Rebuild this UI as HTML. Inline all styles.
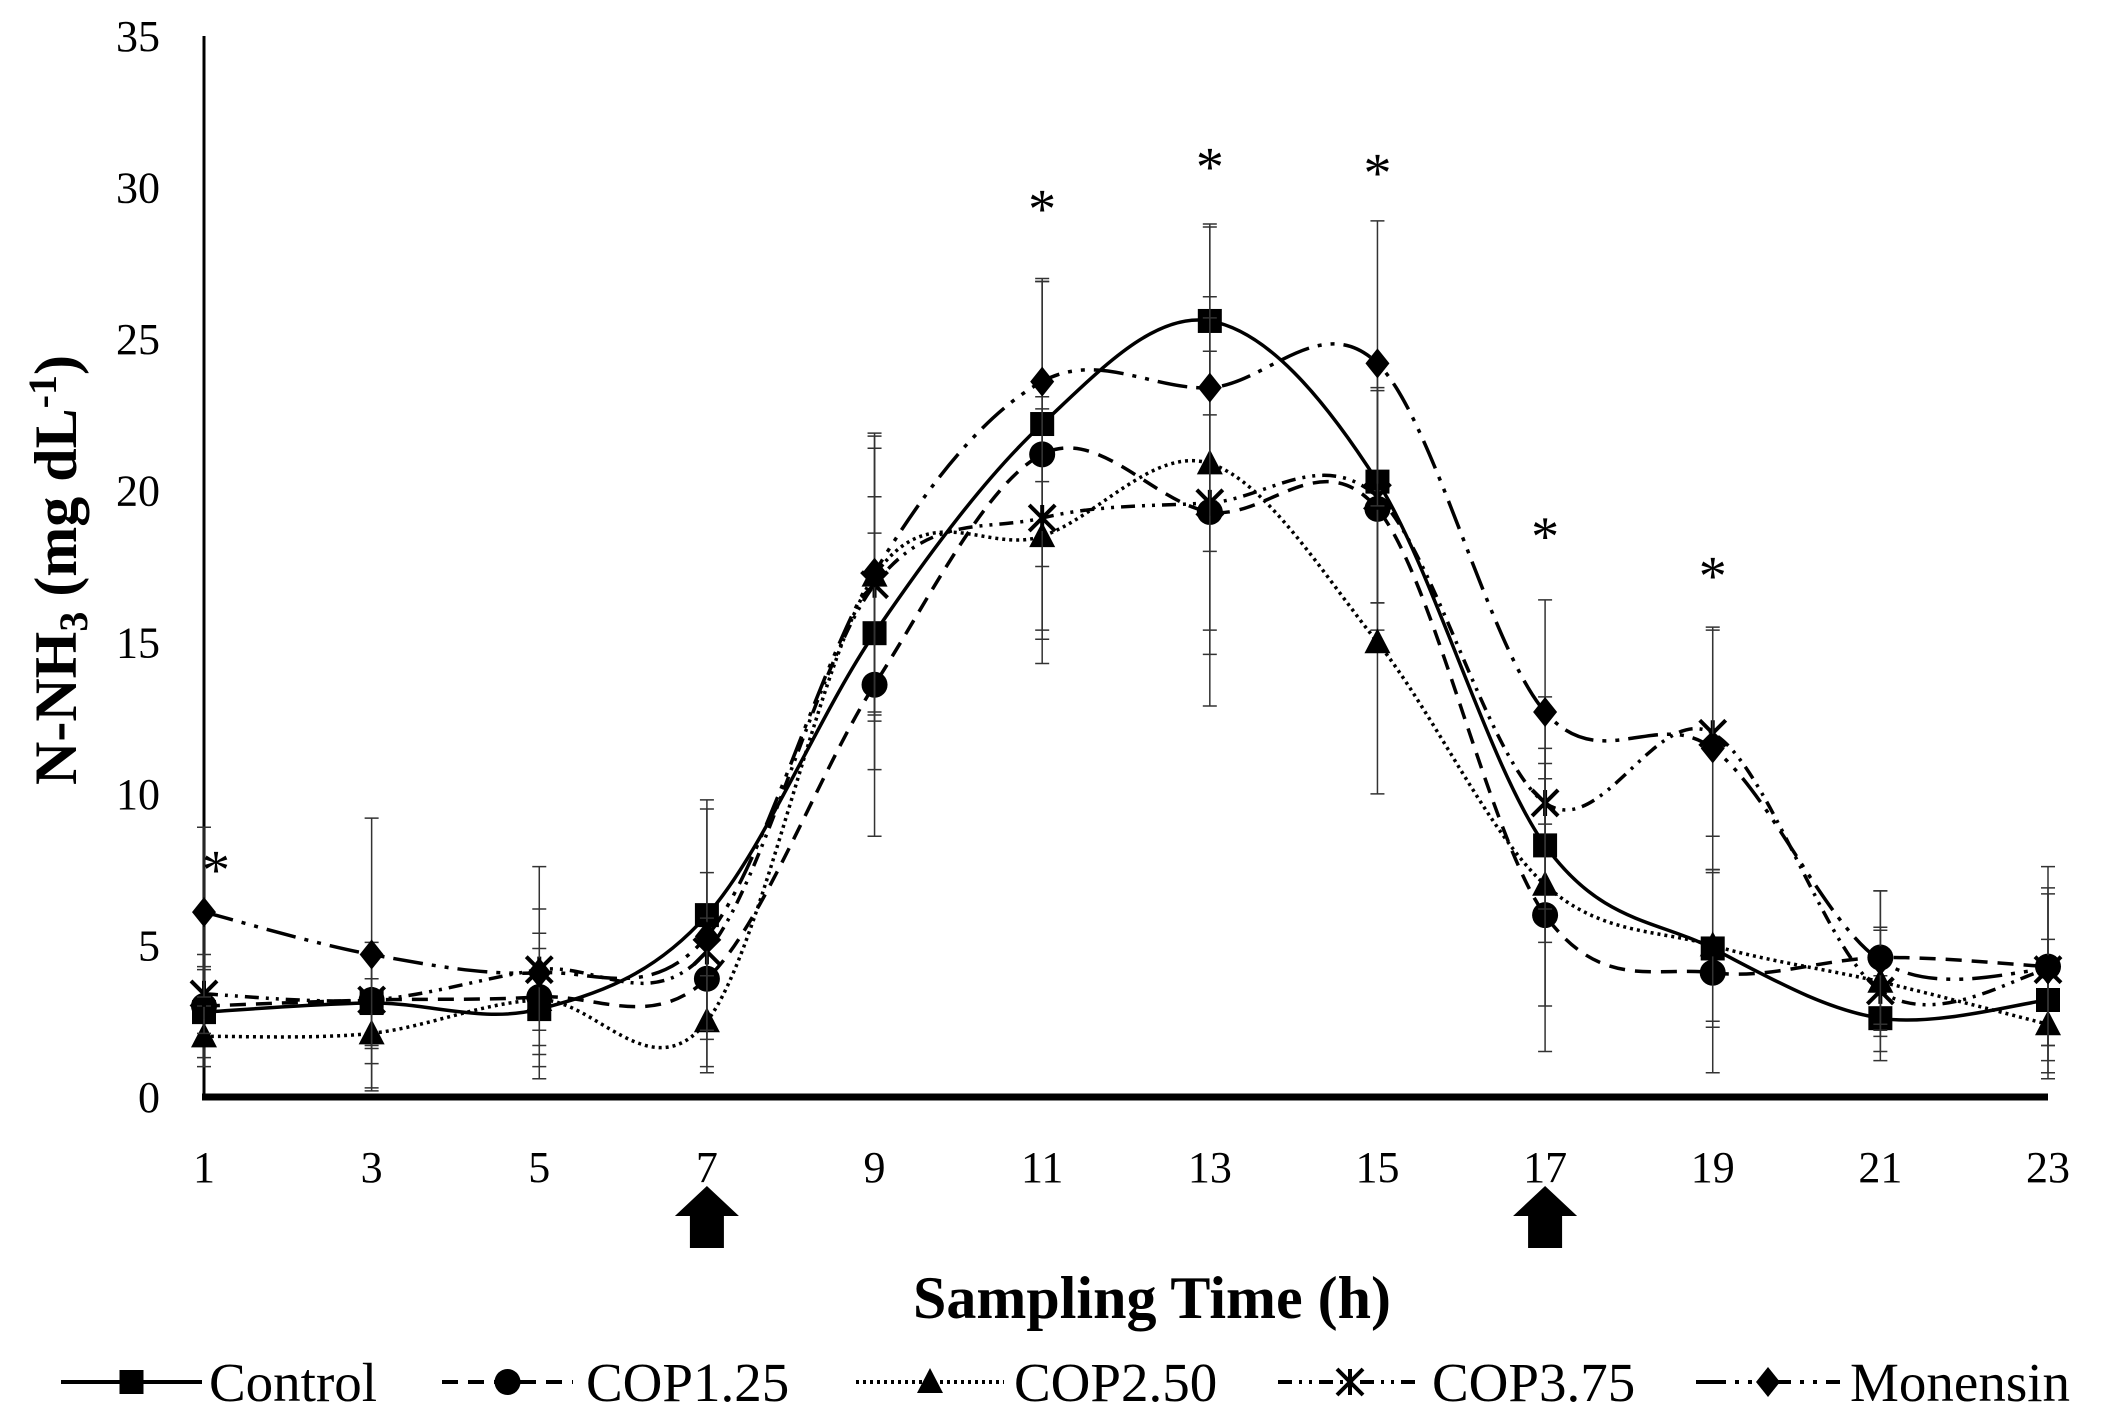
<!DOCTYPE html>
<html><head><meta charset="utf-8"><style>
html,body{margin:0;padding:0;background:#fff}
svg{display:block}
text{font-family:"Liberation Serif",serif;fill:#000}
</style></head><body>
<svg id="c" width="2112" height="1421" xmlns="http://www.w3.org/2000/svg"></svg>
<script>
const hours=[1,3,5,7,9,11,13,15,17,19,21,23];
const yTicks=[0,5,10,15,20,25,30,35];
const control=[2.8,3.1,2.9,6.0,15.3,22.2,25.6,20.3,8.3,4.9,2.6,3.2];
const cop125=[3.0,3.2,3.3,3.9,13.6,21.2,19.3,19.4,6.0,4.1,4.6,4.3];
const cop250=[2.0,2.1,3.2,2.5,17.2,18.5,20.9,15.0,7.0,5.0,3.8,2.4];
const cop375=[3.4,3.2,4.2,4.8,16.9,19.1,19.6,19.8,9.7,12.0,3.5,4.2];
const monensin=[6.1,4.7,4.1,5.3,17.3,23.6,23.4,24.2,12.7,11.5,4.5,4.2];
const errControl=[1.5,2.0,1.5,3.5,4.5,4.7,3.1,4.0,3.2,2.6,1.4,2.0];
const errCop125=[1.2,1.5,1.6,2.0,5.0,5.8,6.4,4.0,4.5,3.3,2.2,2.6];
const errCop250=[1.0,1.8,2.2,1.5,4.6,4.2,5.5,5.0,4.0,2.5,1.8,1.8];
const errCop375=[1.3,1.6,2.0,2.6,4.5,4.0,5.0,3.5,3.5,3.4,2.0,2.5];
const errMonensin=[2.8,4.5,3.5,4.5,4.6,3.3,5.4,4.7,3.7,4.0,2.3,3.4];
const starHours=[1,11,13,15,17,19];
const starValues=[7.8,29.6,31.0,30.8,18.8,17.5];
const arrowHours=[7,17];

const NS="http://www.w3.org/2000/svg";
const svg=document.getElementById('c');
const X0=204,X1=2048,Y0=1097,Y1=36;
const xs=h=>X0+(h-1)/(22)*(X1-X0);
const ys=v=>Y0-v/35*(Y0-Y1);
function el(t,a,p){const e=document.createElementNS(NS,t);for(const k in a)e.setAttribute(k,a[k]);(p||svg).appendChild(e);return e;}

let ya=el('line',{x1:X0,y1:Y1,x2:X0,y2:Y0+3,stroke:'#000','stroke-width':3});


let xa=el('line',{x1:X0-2,y1:Y0,x2:X1,y2:Y0,stroke:'#000','stroke-width':7});


yTicks.forEach(v=>{
  const t=el('text',{x:160,y:ys(v)+15,'text-anchor':'end','font-size':44});
  t.textContent=v;
  
  
});
hours.forEach(h=>{
  const t=el('text',{x:xs(h),y:1182,'text-anchor':'middle','font-size':44});
  t.textContent=h;
  
  
});
arrowHours.forEach(h=>{
  const x=xs(h);
  const a=el('path',{d:`M${x-32} 1216 L${x} 1186 L${x+32} 1216 L${x+17} 1216 L${x+17} 1248 L${x-17} 1248 L${x-17} 1216 Z`,fill:'#000'});
  
  
});
let xt=el('text',{x:1152,y:1318,'text-anchor':'middle','font-size':60,'font-weight':'bold'});
xt.textContent='Sampling Time (h)';


let ytl=el('text',{transform:'translate(76,570) rotate(-90)','text-anchor':'middle','font-size':60,'font-weight':'bold'});
ytl.innerHTML='N-NH<tspan font-size="40" dy="11">3</tspan><tspan dy="-11"> (mg dL</tspan><tspan font-size="40" dy="-20">-1</tspan><tspan dy="20">)</tspan>';



const series=[
 {name:'Control',v:control,e:errControl,dash:'',m:'square'},
 {name:'COP1.25',v:cop125,e:errCop125,dash:'16 10',m:'circle'},
 {name:'COP2.50',v:cop250,e:errCop250,dash:'3 4',m:'triangle'},
 {name:'COP3.75',v:cop375,e:errCop375,dash:'14 7 3 7 3 7',m:'star'},
 {name:'Monensin',v:monensin,e:errMonensin,dash:'30 9 4 9 4 9',m:'diamond'}
];
function marker(type,x,y,g,s){
  s=s||1;
  if(type==='square')return el('rect',{x:x-12*s,y:y-12*s,width:24*s,height:24*s,fill:'#000'},g);
  if(type==='circle')return el('circle',{cx:x,cy:y,r:13*s,fill:'#000'},g);
  if(type==='triangle')return el('path',{d:`M${x} ${y-14*s} L${x+13*s} ${y+11*s} L${x-13*s} ${y+11*s}Z`,fill:'#000'},g);
  if(type==='diamond')return el('path',{d:`M${x} ${y-15*s} L${x+12*s} ${y} L${x} ${y+15*s} L${x-12*s} ${y}Z`,fill:'#000'},g);
  const r=13*s;
  return el('path',{d:`M${x-r} ${y-r} L${x+r} ${y+r} M${x+r} ${y-r} L${x-r} ${y+r} M${x} ${y-r} L${x} ${y+r}`,stroke:'#000','stroke-width':4,fill:'none'},g);
}
function spline(pts){
  let d=`M${pts[0][0]} ${pts[0][1]}`;
  for(let i=0;i<pts.length-1;i++){
    const p0=pts[i-1]||pts[i],p1=pts[i],p2=pts[i+1],p3=pts[i+2]||p2;
    const c1=[p1[0]+(p2[0]-p0[0])/6,p1[1]+(p2[1]-p0[1])/6];
    const c2=[p2[0]-(p3[0]-p1[0])/6,p2[1]-(p3[1]-p1[1])/6];
    d+=` C${c1[0]} ${c1[1]} ${c2[0]} ${c2[1]} ${p2[0]} ${p2[1]}`;
  }
  return d;
}
series.forEach(s=>{
  const g=el('g',{});
  
  
  s.v.forEach((v,i)=>{
    const x=xs(hours[i]),a=ys(v+s.e[i]),b=ys(Math.max(0,v-s.e[i]));
    const eb=el('path',{d:`M${x} ${a} L${x} ${b} M${x-7} ${a} L${x+7} ${a} M${x-7} ${b} L${x+7} ${b}`,stroke:'#333','stroke-width':1.5,fill:'none'},g);
    
    
  });
  const pts=s.v.map((v,i)=>[xs(hours[i]),ys(v)]);
  const p=el('path',{d:spline(pts),fill:'none',stroke:'#000','stroke-width':3.5,'stroke-dasharray':s.dash},g);
  
  
  pts.forEach(q=>{
    const m=marker(s.m,q[0],q[1],g);
    
    
  });
});
starHours.forEach((h,i)=>{
  const t=el('text',{x:xs(h)+(h===1?12:0),y:ys(starValues[i])+28,'text-anchor':'middle','font-size':56});
  t.textContent='*';
  
  
});
const legX=[[61,202,209],[442,573,586],[856,1004,1014],[1278,1422,1432],[1696,1840,1850]];
series.forEach((s,i)=>{
  const g=el('g',{});
  
  
  const [a,b,tx]=legX[i];
  el('line',{x1:a,y1:1382,x2:b,y2:1382,stroke:'#000','stroke-width':4,'stroke-dasharray':s.dash},g);
  marker(s.m,(a+b)/2,1382,g);
  const t=el('text',{x:tx,y:1401,'font-size':55},g);
  t.textContent=s.name;
});
</script>
</body></html>
